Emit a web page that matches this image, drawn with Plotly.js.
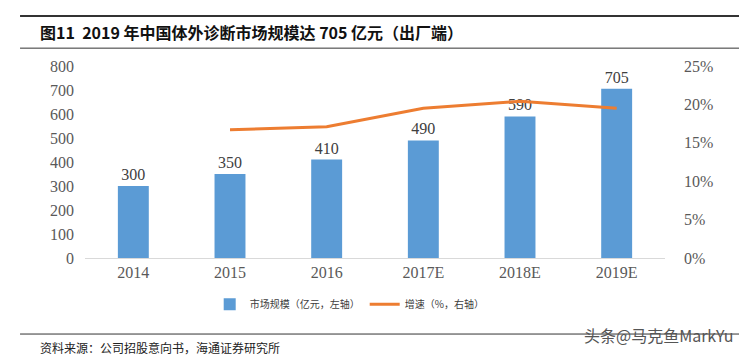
<!DOCTYPE html>
<html><head><meta charset="utf-8">
<script src="https://cdn.plot.ly/plotly-3.0.1.min.js"></script>
<style>html,body{margin:0;padding:0;background:#fff}#c{width:739px;height:357px}</style>
</head><body><div id="c"></div>
<script>
const categories = ['2014','2015','2016','2017E','2018E','2019E'];
const marketSize = [300,350,410,490,590,705];
const growthCats = ['2015','2016','2017E','2018E','2019E'];
const growthRate = [0.167,0.171,0.195,0.204,0.195];
const leftTicks = [0,100,200,300,400,500,600,700,800];
const rightTicks = [0,0.05,0.10,0.15,0.20,0.25];

const serif = 'Liberation Serif, Times New Roman, serif';
const cjk = 'Noto Sans CJK SC, sans-serif';

const traces = [
  {type:'bar', x:categories, y:marketSize, name:'市场规模（亿元，左轴）',
   marker:{color:'#5B9BD5'}, width:0.32,
   text:marketSize.map(String), textposition:'outside', cliponaxis:false,
   textfont:{family:serif, size:16, color:'#404040'}, hoverinfo:'skip'},
  {type:'scatter', mode:'lines', x:growthCats, y:growthRate, yaxis:'y2',
   name:'增速（%，右轴）', line:{color:'#ED7D31', width:3}, hoverinfo:'skip'}
];

const layout = {
  width:739, height:357,
  margin:{l:85, r:74, t:66, b:99},
  paper_bgcolor:'#fff', plot_bgcolor:'#fff',
  showlegend:true,
  legend:{orientation:'h', x:0.215, xanchor:'left', y:-0.165, yanchor:'top',
    font:{family:cjk, size:10, color:'#404040'}, itemwidth:30, tracegroupgap:0},
  bargap:0.68,
  xaxis:{type:'category', categoryorder:'array', categoryarray:categories,
    showline:true, linecolor:'#d9d9d9', linewidth:1, ticks:'', showgrid:false,
    tickfont:{family:serif, size:16, color:'#595959'}, zeroline:false},
  yaxis:{range:[0,800], tickvals:leftTicks, showgrid:false, zeroline:false, showline:false,
    ticks:'', tickfont:{family:serif, size:16, color:'#595959'}, ticklabelstandoff:10},
  yaxis2:{range:[0,0.25], tickvals:rightTicks, tickformat:'.0%', overlaying:'y', side:'right',
    showgrid:false, zeroline:false, showline:false, ticks:'',
    tickfont:{family:serif, size:16, color:'#595959'}, ticklabelstandoff:18},
  shapes:[
    {type:'line', xref:'paper', yref:'paper', x0:-0.112, x1:1.13, y0:1.26, y1:1.26, line:{color:'#333', width:2}},
    {type:'line', xref:'paper', yref:'paper', x0:-0.112, x1:1.13, y0:1.093, y1:1.093, line:{color:'#333', width:1}},
    {type:'line', xref:'paper', yref:'paper', x0:-0.112, x1:1.13, y0:-0.396, y1:-0.396, line:{color:'#333', width:1}}
  ],
  annotations:[
    {xref:'paper', yref:'paper', x:-0.081, y:1.177, xanchor:'left', yanchor:'middle', showarrow:false,
     text:'<b>图11  2019 年中国体外诊断市场规模达 705 亿元（出厂端）</b>',
     font:{family:cjk, size:16, color:'#111'}},
    {xref:'paper', yref:'paper', x:-0.081, y:-0.465, xanchor:'left', yanchor:'middle', showarrow:false,
     text:'资料来源：公司招股意向书，海通证券研究所', font:{family:cjk, size:12, color:'#222'}},
    {xref:'paper', yref:'paper', x:1.122, y:-0.40, xanchor:'right', yanchor:'middle', showarrow:false,
     text:'头条@马克鱼MarkYu', font:{family:cjk, size:16, color:'#555'}}
  ]
};
Plotly.newPlot('c', traces, layout, {displayModeBar:false, staticPlot:true});
</script></body></html>
